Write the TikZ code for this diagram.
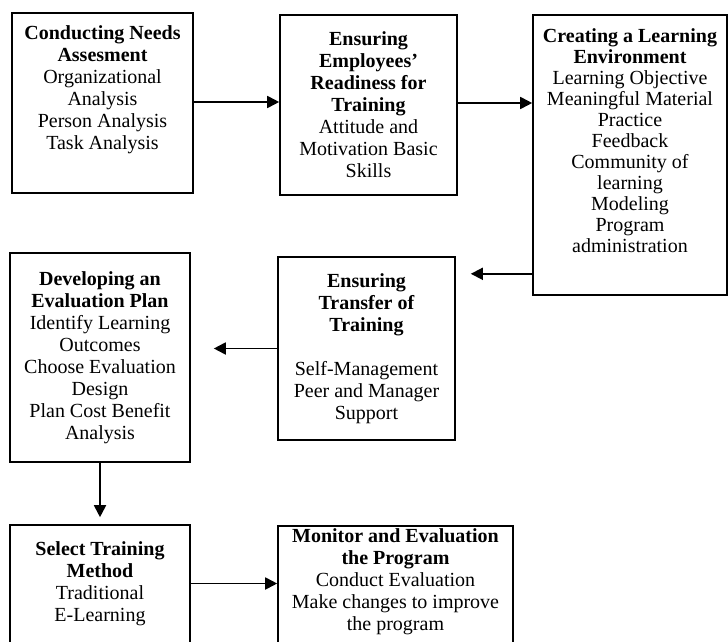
\documentclass[tikz,border=0pt]{standalone}
\usepackage{fontspec}
\setmainfont{Liberation Serif}
\usetikzlibrary{arrows, arrows.meta}
\usetikzlibrary{positioning}
\usetikzlibrary{calc}

\begin{document}
\begin{tikzpicture}[x=1pt, y=-1pt,
	stagebox/.style={draw, line width=1.6pt, align=center, inner sep=0pt, font=\fontsize{20}{22}\selectfont},
	flow/.style={line width=1.8pt, -{Triangle[length=12pt, width=12pt]}}]
				% page size
				\useasboundingbox (0,0) rectangle (728,642);
				\clip (0,0) rectangle (728,642);
				% draw boxes
				\node[stagebox, minimum width=181pt, minimum height=180pt, text depth=31pt] (needs) at (102.5,103) {\textbf{Conducting Needs}\\\textbf{Assesment}\\Organizational\\Analysis\\Person Analysis\\Task Analysis};
				\node[stagebox, minimum width=177pt, minimum height=180pt] (ready) at (368.5,105) {\textbf{Ensuring}\\\textbf{Employees'}\\\textbf{Readiness for}\\\textbf{Training}\\Attitude and\\Motivation Basic\\Skills};
				\node[stagebox, minimum width=194pt, minimum height=280pt, text depth=28pt, font=\fontsize{20}{21}\selectfont] (env) at (630,155) {\textbf{Creating a Learning}\\\textbf{Environment}\\Learning Objective\\Meaningful Material\\Practice\\Feedback\\Community of\\learning\\Modeling\\Program\\administration};
				\node[stagebox, minimum width=177pt, minimum height=183pt] (transfer) at (366.5,348.5) {\textbf{Ensuring}\\\textbf{Transfer of}\\\textbf{Training}\\[22pt]Self-Management\\Peer and Manager\\Support};
				\node[stagebox, minimum width=180pt, minimum height=209pt] (evalplan) at (100,357.5) {\textbf{Developing an}\\\textbf{Evaluation Plan}\\Identify Learning\\Outcomes\\Choose Evaluation\\Design\\Plan Cost Benefit\\Analysis};
				\node[stagebox, minimum width=180pt, minimum height=125pt, text depth=12pt] (method) at (100,587.5) {\textbf{Select Training}\\\textbf{Method}\\Traditional\\E-Learning};
				\node[stagebox, minimum width=235pt, minimum height=124pt, text depth=17pt] (monitor) at (395.5,588) {\textbf{Monitor and Evaluation}\\\textbf{the Program}\\Conduct Evaluation\\Make changes to improve\\the program};
				% add arrows
				\draw[flow] ([yshift=1pt]needs.east) -- ([yshift=1pt]needs.east -| ready.west);
				\draw[flow] ([yshift=2pt]ready.east) -- ([yshift=2pt]ready.east -| env.west);
				\draw[flow, shorten >=15pt] ([yshift=22pt]env.south west) -- ([yshift=22pt]env.south west -| transfer.east);
				\draw[flow, shorten >=23pt] (transfer.west) -- (transfer.west -| evalplan.east);
				\draw[flow, shorten >=7pt] (evalplan) -- (method);
				\draw[flow] ([yshift=4pt]method.east) -- ([yshift=4pt]method.east -| monitor.west);
\end{tikzpicture}
\end{document}
